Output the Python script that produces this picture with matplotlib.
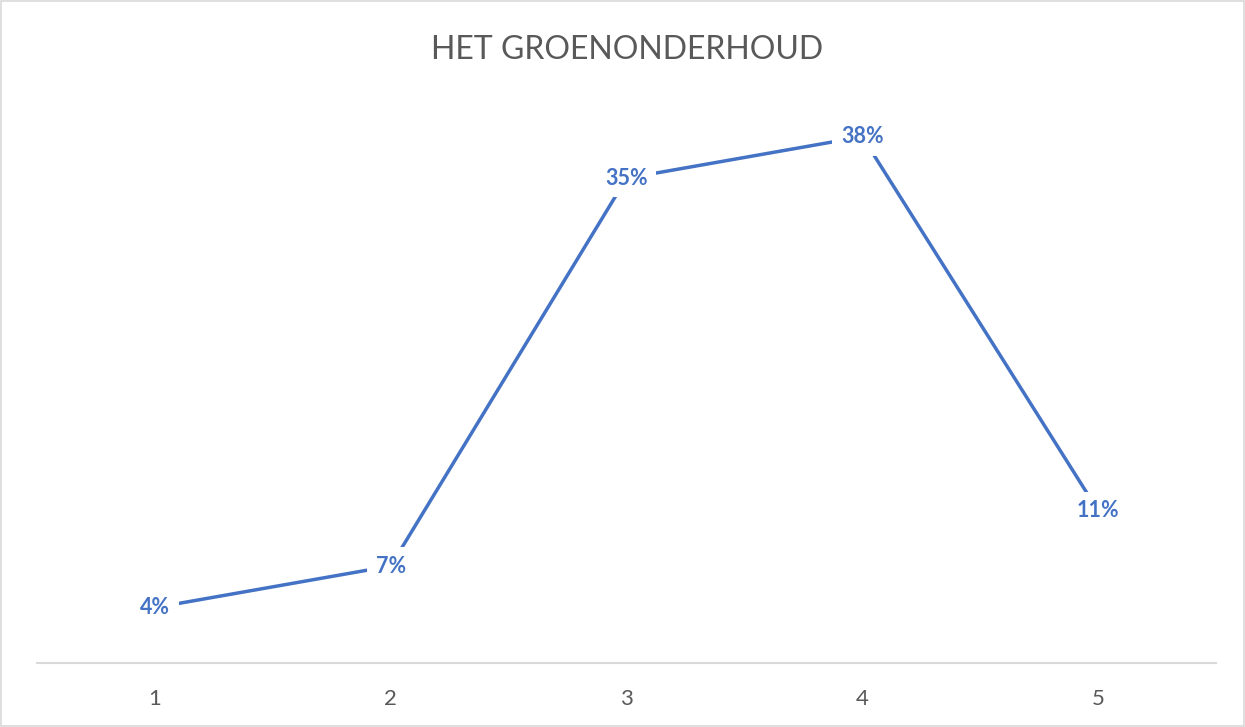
import matplotlib.pyplot as plt
from matplotlib.patches import Rectangle

# Gegevens
categories = [1, 2, 3, 4, 5]
values = [4, 7, 35, 38, 11]  # procenten
labels = [f'{v}%' for v in values]

blue = '#4472C4'
grey_text = '#595959'
grey_line = '#D9D9D9'

plt.rcParams['font.family'] = ['Lato', 'DejaVu Sans']

fig = plt.figure(figsize=(12.45, 7.27), dpi=100, facecolor='white')
ax = fig.add_axes([37 / 1245, 64 / 727, 1179 / 1245, 554 / 727])

ax.plot(categories, values, color=blue, linewidth=2.5, solid_capstyle='butt', zorder=2)

# Datalabels met witte achtergrond (onderbreken de lijn zoals in Excel)
for x, v, lab in zip(categories, values, labels):
    ax.text(x, v, lab, ha='center', va='center', fontsize=15.5, fontweight='bold',
            color=blue, zorder=3,
            bbox=dict(boxstyle='square,pad=0.4', facecolor='white', edgecolor='none'))

ax.set_xlim(0.5, 5.5)
ax.set_ylim(0, 40)
ax.set_xticks(categories)
ax.set_xticklabels([str(c) for c in categories])
ax.set_yticks([])
ax.tick_params(axis='x', length=0, pad=19, labelsize=16, labelcolor=grey_text)

for side in ['top', 'left', 'right']:
    ax.spines[side].set_visible(False)
ax.spines['bottom'].set_color(grey_line)
ax.spines['bottom'].set_linewidth(1.5)

fig.text(0.504, 0.931, 'HET GROENONDERHOUD', ha='center', va='center',
         fontsize=23, color=grey_text, fontweight='normal')

# Rand rond de grafiek
fig.patches.append(Rectangle((0.001, 0.001), 0.998, 0.997, transform=fig.transFigure,
                             fill=False, edgecolor=grey_line, linewidth=1.2))

fig.savefig('out.png', dpi=100)
